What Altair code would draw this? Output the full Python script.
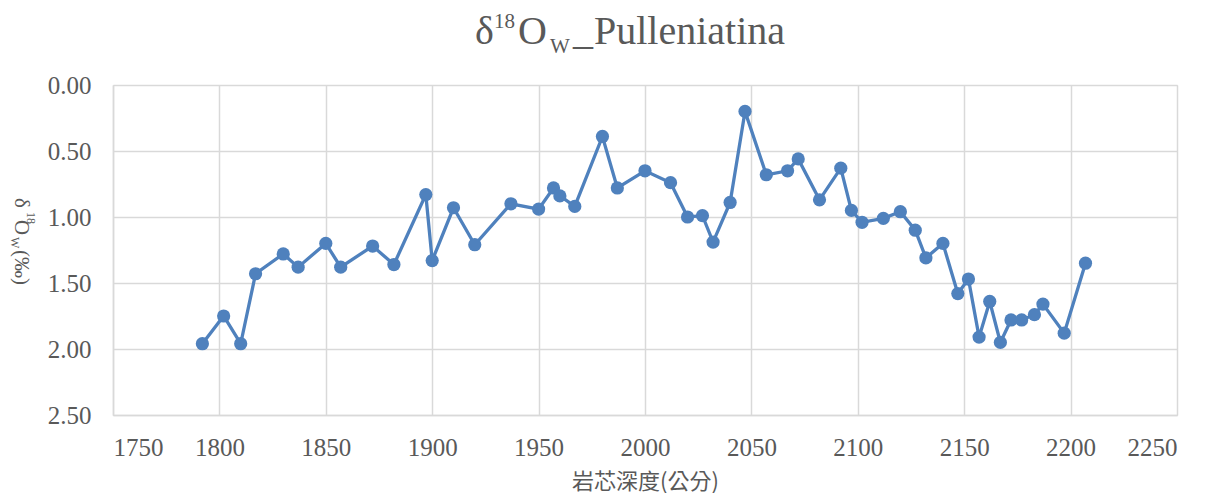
import altair as alt
import pandas as pd

depth = [1792, 1802, 1810, 1817, 1830, 1837, 1850, 1857, 1872, 1882, 1897, 1900,
         1910, 1920, 1937, 1950, 1957, 1960, 1967, 1980, 1987, 2000, 2012, 2020,
         2027, 2032, 2040, 2047, 2057, 2067, 2072, 2082, 2092, 2097, 2102, 2112,
         2120, 2127, 2132, 2140, 2147, 2152, 2157, 2162, 2167, 2172, 2177, 2183,
         2187, 2197, 2207]
d18ow = [1.96, 1.75, 1.96, 1.43, 1.28, 1.38, 1.20, 1.38, 1.22, 1.36, 0.83, 1.33,
         0.93, 1.21, 0.90, 0.94, 0.78, 0.84, 0.92, 0.39, 0.78, 0.65, 0.74, 1.00,
         0.99, 1.19, 0.89, 0.20, 0.68, 0.65, 0.56, 0.87, 0.63, 0.95, 1.04, 1.01,
         0.96, 1.10, 1.31, 1.20, 1.58, 1.47, 1.91, 1.64, 1.95, 1.78, 1.78, 1.74,
         1.66, 1.88, 1.35]
x_ticks = [1750, 1800, 1850, 1900, 1950, 2000, 2050, 2100, 2150, 2200, 2250]
y_ticks = [0.0, 0.5, 1.0, 1.5, 2.0, 2.5]

x_title = "岩芯深度(公分)"

df = pd.DataFrame({"depth": depth, "val": d18ow, "idx": list(range(len(depth)))})

BLUE = "#4f81bd"
GRAY = "#595959"
GRID = "#d9d9d9"
SERIF = "Liberation Serif"

x_enc = alt.X("depth:Q",
              scale=alt.Scale(domain=[1750, 2250], nice=False, zero=False),
              axis=alt.Axis(values=x_ticks, format="d", title=x_title,
                            titleFont="Noto Sans CJK TC", titleFontSize=22,
                            titleFontWeight="normal", titleColor=GRAY,
                            titlePadding=11,
                            labelFont=SERIF, labelFontSize=25, labelColor=GRAY,
                            labelPadding=20, ticks=False,
                            domainColor=GRID, domainWidth=1.5,
                            grid=True, gridColor=GRID, gridWidth=1.5))
y_enc = alt.Y("val:Q",
              scale=alt.Scale(domain=[0, 2.5], reverse=True, nice=False, zero=False),
              axis=alt.Axis(values=y_ticks, format=".2f", title=None,
                            labelFont=SERIF, labelFontSize=25, labelColor=GRAY,
                            labelPadding=22, ticks=False,
                            domainColor=GRID, domainWidth=1.5,
                            grid=True, gridColor=GRID, gridWidth=1.5))

base = alt.Chart(df)
line = base.mark_line(color=BLUE, strokeWidth=3.3).encode(x=x_enc, y=y_enc, order="idx:Q")
pts = base.mark_circle(color=BLUE, opacity=1, size=175).encode(x="depth:Q", y="val:Q")

one = pd.DataFrame({"k": [0]})


def txt(s, x, y, size, angle=0, font=SERIF):
    kw = dict(text=s, font=font, fontSize=size, color=GRAY, align="left",
              baseline="alphabetic")
    if angle:
        kw["angle"] = angle
    return alt.Chart(one).mark_text(**kw).encode(x=alt.value(x), y=alt.value(y))


# chart title: δ¹⁸O_W _Pulleniatina
title_parts = [
    txt("δ", 362, -41, 40),
    txt("18", 381, -57, 21),
    txt("O", 405, -41, 40),
    txt("W", 437, -32, 21),
    txt("_", 460, -41, 40),
    txt("Pulleniatina", 481, -41, 40),
]
# y axis title: δ¹⁸O_W (‰), rotated
ytitle_parts = [
    txt("δ", -98, 113, 21, 90),
    txt("18", -86, 127, 12, 90),
    txt("O", -98, 135, 21, 90),
    txt("W", -102, 152, 12, 90),
    txt("(‰)", -98, 165, 21, 90),
]

chart = alt.layer(line, pts, *title_parts, *ytitle_parts).properties(
    width=1064, height=330,
    autosize=alt.AutoSizeParams(type="none"),
    padding={"left": 105, "top": 77, "right": 26, "bottom": 78},
).configure_view(stroke=None).configure(background="white")

chart.save("out.html", embed_options={"renderer": "svg", "actions": False})
